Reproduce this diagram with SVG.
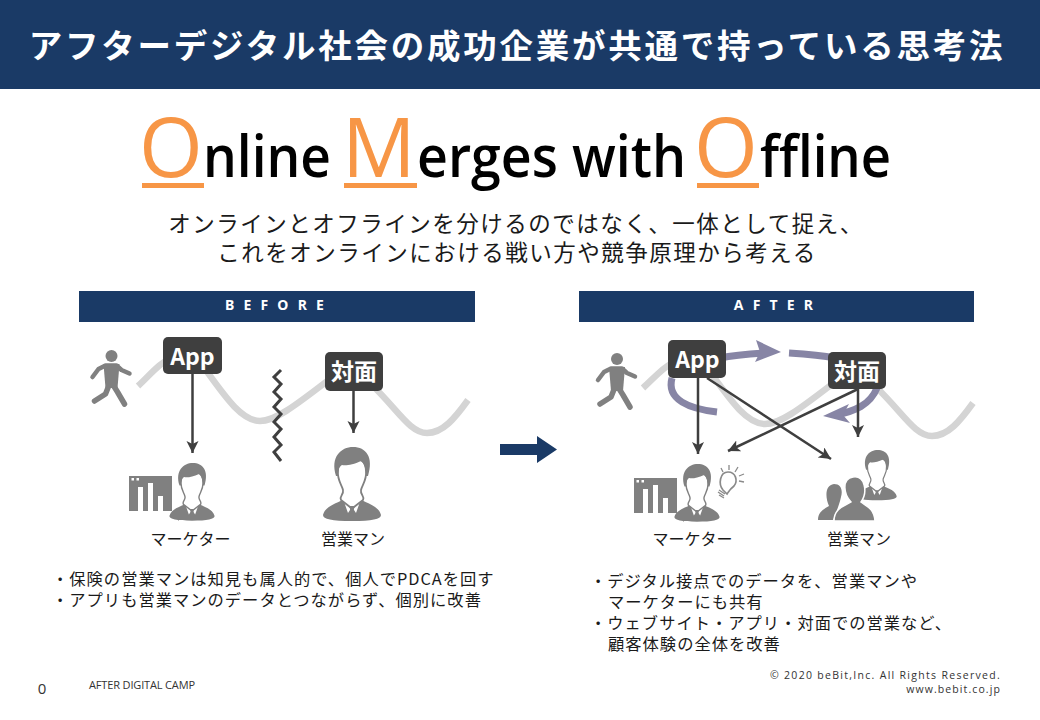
<svg xmlns="http://www.w3.org/2000/svg" width="1040" height="720" viewBox="0 0 1040 720">
<style>
text{font-family:"Noto Sans CJK JP","Noto Sans",sans-serif;fill:#1a1a1a}
.om{font-family:"Open Sans","Noto Sans",sans-serif;font-size:58px;fill:#000;font-weight:600}
.big{font-family:"Open Sans","Noto Sans",sans-serif;font-size:82px;fill:#f79646;font-weight:500}
.sub{font-size:22.500px;letter-spacing:1.500px;text-anchor:middle}
.band{fill:#1a3a66}
.bt{font-size:14px;font-weight:700;fill:#fff;letter-spacing:9.200px;text-anchor:middle;font-family:"Noto Sans",sans-serif}
.lab{font-size:16px;text-anchor:middle}
.b{font-size:16.300px;letter-spacing:1px}
.box{fill:#3f3f3f}
.bx{font-size:23px;font-weight:700;fill:#fff;text-anchor:middle}
.wave{fill:none;stroke:#d4d4d4;stroke-width:6.500}
.ln{fill:none;stroke:#3f3f3f;stroke-width:2.500}
.pur{fill:none;stroke:#8785a5;stroke-width:7}
.g{fill:#808080}
.foot{font-family:"Open Sans",sans-serif;fill:#333}
</style>
<defs>
<marker id="ah" markerUnits="userSpaceOnUse" markerWidth="14" markerHeight="14" refX="12" refY="6" orient="auto"><path d="M0 0 L12 6 L0 12 L3 6Z" fill="#3f3f3f"/></marker>
<g id="person">
<path class="g" d="M-29 68C-27 60-18 57-9 53L0 60L9 53C18 57 27 60 29 68C29 72 20 74 0 74C-20 74-29 72-29 68Z"/>
<path d="M-9 52L-4 66L0 60L4 66L9 52L0 57Z" fill="#fff"/>
<path d="M-14 24C-15 33-10 38-9 43C-8 48-13 49-11 53L-2 60H2L11 53C13 49 8 48 9 43C10 38 15 33 14 24C14 16 11 14 8 13H-9C-12 15-14 18-14 24Z" fill="#fff" stroke="#808080" stroke-width="1.800"/>
<path class="g" d="M-16 29C-22 10-11 0 1 0C14 0 22 10 16 29L14 29C14 22 12 16 9 14C1 18-7 19-10 18C-13 20-14 23-14 29Z"/>
<path class="g" d="M-2.500 60H2.500L1.500 64L3.500 71H-3.500L-1.500 64Z"/>
</g>
<g id="bld">
<path class="g" d="M0 0H43V35H34V20H29V35H24V7H19V35H14V11H9V35H0Z"/>
<rect x="2.500" y="2" width="2.500" height="2.500" fill="#fff"/><rect x="7.500" y="2" width="2.500" height="2.500" fill="#fff"/>
</g>
<g id="walk">
<circle cx="0" cy="0" r="6" fill="#808080"/>
<path d="M-19 21L-13 13L-6 9.500H5L10 14L18 17.500" fill="none" stroke="#808080" stroke-width="4.500" stroke-linecap="round" stroke-linejoin="round"/>
<path d="M-2 28L-6 38L-17 45M1 28L6 36L13 48" fill="none" stroke="#808080" stroke-width="5.500" stroke-linecap="round" stroke-linejoin="round"/>
<path class="g" d="M-8 8H8L6 32H-6Z"/>
</g>
</defs>

<g id="header">
<rect class="band" width="1040" height="89"/>
<text x="517" y="58" text-anchor="middle" font-size="33.500" font-weight="700" letter-spacing="2.750" style="fill:#fff">アフターデジタル社会の成功企業が共通で持っている思考法</text>
</g>

<g id="headline">
<text class="big" x="139" y="177">O</text><text class="om" x="203" y="177" textLength="128" lengthAdjust="spacingAndGlyphs">nline</text>
<text class="big" x="342" y="177">M</text><text class="om" x="417" y="177" textLength="269" lengthAdjust="spacingAndGlyphs">erges with</text>
<text class="big" x="694" y="177">O</text><text class="om" x="760" y="177" textLength="131" lengthAdjust="spacingAndGlyphs">ffline</text>
<rect x="142" y="183" width="62" height="5" fill="#f79646"/>
<rect x="344" y="183" width="73" height="5" fill="#f79646"/>
<rect x="697" y="183" width="62" height="5" fill="#f79646"/>
<text class="sub" x="516" y="232">オンラインとオフラインを分けるのではなく、一体として捉え、</text>
<text class="sub" x="517" y="261">これをオンラインにおける戦い方や競争原理から考える</text>
</g>

<g id="before-band"><rect class="band" x="79" y="291" width="396" height="31"/><text class="bt" x="279" y="310">BEFORE</text></g>
<g id="after-band"><rect class="band" x="579" y="291" width="395" height="31"/><text class="bt" x="778" y="310">AFTER</text></g>

<g id="before-journey">
<use href="#walk" x="111.500" y="356"/>
<path class="wave" d="M138 386C150 375 160 362 172 358M200 362C222 392 240 421 260 421C274 421 290 410 335 375M372 385C398 410 410 433 427 433C443 433 455 418 468 400"/>
</g>
<g id="after-journey">
<use href="#walk" x="617" y="359"/>
<path class="wave" d="M643 388C655 377 665 365 677 361M705 365C727 395 745 424 765 424C779 424 795 413 840 378M877 388C903 413 915 436 932 436C948 436 960 421 973 403"/>
</g>

<g id="cycle">
<path class="pur" d="M720 358C735 355 750 354 765 353"/>
<path d="M756 340L781 352L755 362L760 352Z" fill="#8785a5"/>
<path class="pur" d="M789 353C805 354 820 355 835 358"/>
<path class="pur" d="M672 378C666 400 690 409 717 412"/>
<path class="pur" d="M877 388C870 405 855 411 836 415"/>
<path d="M823 416L849 404L843 415L850 423Z" fill="#8785a5"/>
</g>

<g id="connectors">
<path class="ln" d="M192.500 374V453" marker-end="url(#ah)"/>
<path class="ln" d="M353.500 391V433" marker-end="url(#ah)"/>
<path class="ln" d="M698 378V454" marker-end="url(#ah)"/>
<path class="ln" d="M858 389V437" marker-end="url(#ah)"/>
<path class="ln" d="M707 378L831 459" marker-end="url(#ah)"/>
<path class="ln" d="M858 389L728 451" marker-end="url(#ah)"/>
</g>

<g id="divider">
<path d="M281 370L274 377L281 384L274 392L281 399L274 407L281 414L274 422L281 429L274 437L281 445L274 452L281 461" fill="none" stroke="#3f3f3f" stroke-width="3"/>
</g>

<g id="app-before"><rect class="box" x="163" y="337" width="59" height="37" rx="5"/><text class="bx" x="192.500" y="365">App</text></g>
<g id="face-before"><rect class="box" x="325" y="352" width="58" height="39" rx="5"/><text class="bx" x="354" y="380">対面</text></g>
<g id="app-after"><rect class="box" x="668" y="340" width="58" height="38" rx="5"/><text class="bx" x="697.500" y="368">App</text></g>
<g id="face-after"><rect class="box" x="828" y="352" width="58" height="37" rx="5"/><text class="bx" x="857" y="380">対面</text></g>

<g id="marketer-before">
<use href="#bld" x="129" y="476"/>
<use href="#person" transform="translate(192 463) scale(.78)"/>
<text class="lab" x="190.500" y="545">マーケター</text>
</g>
<g id="sales-before">
<use href="#person" x="352" y="447"/>
<text class="lab" x="353" y="545">営業マン</text>
</g>
<g id="marketer-after">
<use href="#bld" x="634" y="478"/>
<use href="#person" transform="translate(697 464) scale(.78)"/>
<g fill="none" stroke="#8a8a8a" stroke-width="1.300">
<path d="M723 490C718 484 720 472 728 472C736 472 738 481 734 486C730 489 729 491 727 494Z" stroke-width="1.700"/>
<path d="M719 490L725 494M718 492L724 496M719 495L724 498M721 468L723 472M729 465V470M738 467L735 472M744 474L739 476M744 482L739 481"/>
</g>
<text class="lab" x="692.500" y="545">マーケター</text>
</g>
<g id="sales-after">
<use href="#person" transform="translate(877 450) scale(.68)"/>
<path class="g" d="M818 520C818 512 824 509 829 506C825 497 825 485 834 484C841 484 843 490 841 497C840 502 838 507 837 510L833 520Z"/>
<path d="M834 521C834 508 845 506 851 502C844 495 841 479 853 477C865 475 868 492 861 502C866 506 874 508 875 521Z" fill="#808080" stroke="#fff" stroke-width="1.500"/>
<text class="lab" x="859" y="545">営業マン</text>
</g>

<g id="transition"><path class="band" d="M500 444H537V436L557 449.500L537 463V455H500Z"/></g>

<g id="notes-before">
<text class="b" x="52" y="585">・保険の営業マンは知見も属人的で、個人でPDCAを回す</text>
<text class="b" x="52" y="606">・アプリも営業マンのデータとつながらず、個別に改善</text>
</g>
<g id="notes-after">
<text class="b" x="590" y="587">・デジタル接点でのデータを、営業マンや</text>
<text class="b" x="608" y="608">マーケターにも共有</text>
<text class="b" x="590" y="629">・ウェブサイト・アプリ・対面での営業など、</text>
<text class="b" x="608" y="650">顧客体験の全体を改善</text>
</g>

<g id="footer">
<text class="foot" x="42" y="694" font-size="15" text-anchor="middle">0</text>
<text class="foot" x="89" y="689" font-size="11" letter-spacing="-.15">AFTER DIGITAL CAMP</text>
<text class="foot" x="1001" y="679" font-size="10.500" letter-spacing="1.300" text-anchor="end">© 2020 beBit,Inc. All Rights Reserved.</text>
<text class="foot" x="1001" y="693" font-size="10.500" letter-spacing="1.100" text-anchor="end">www.bebit.co.jp</text>
</g>
</svg>
